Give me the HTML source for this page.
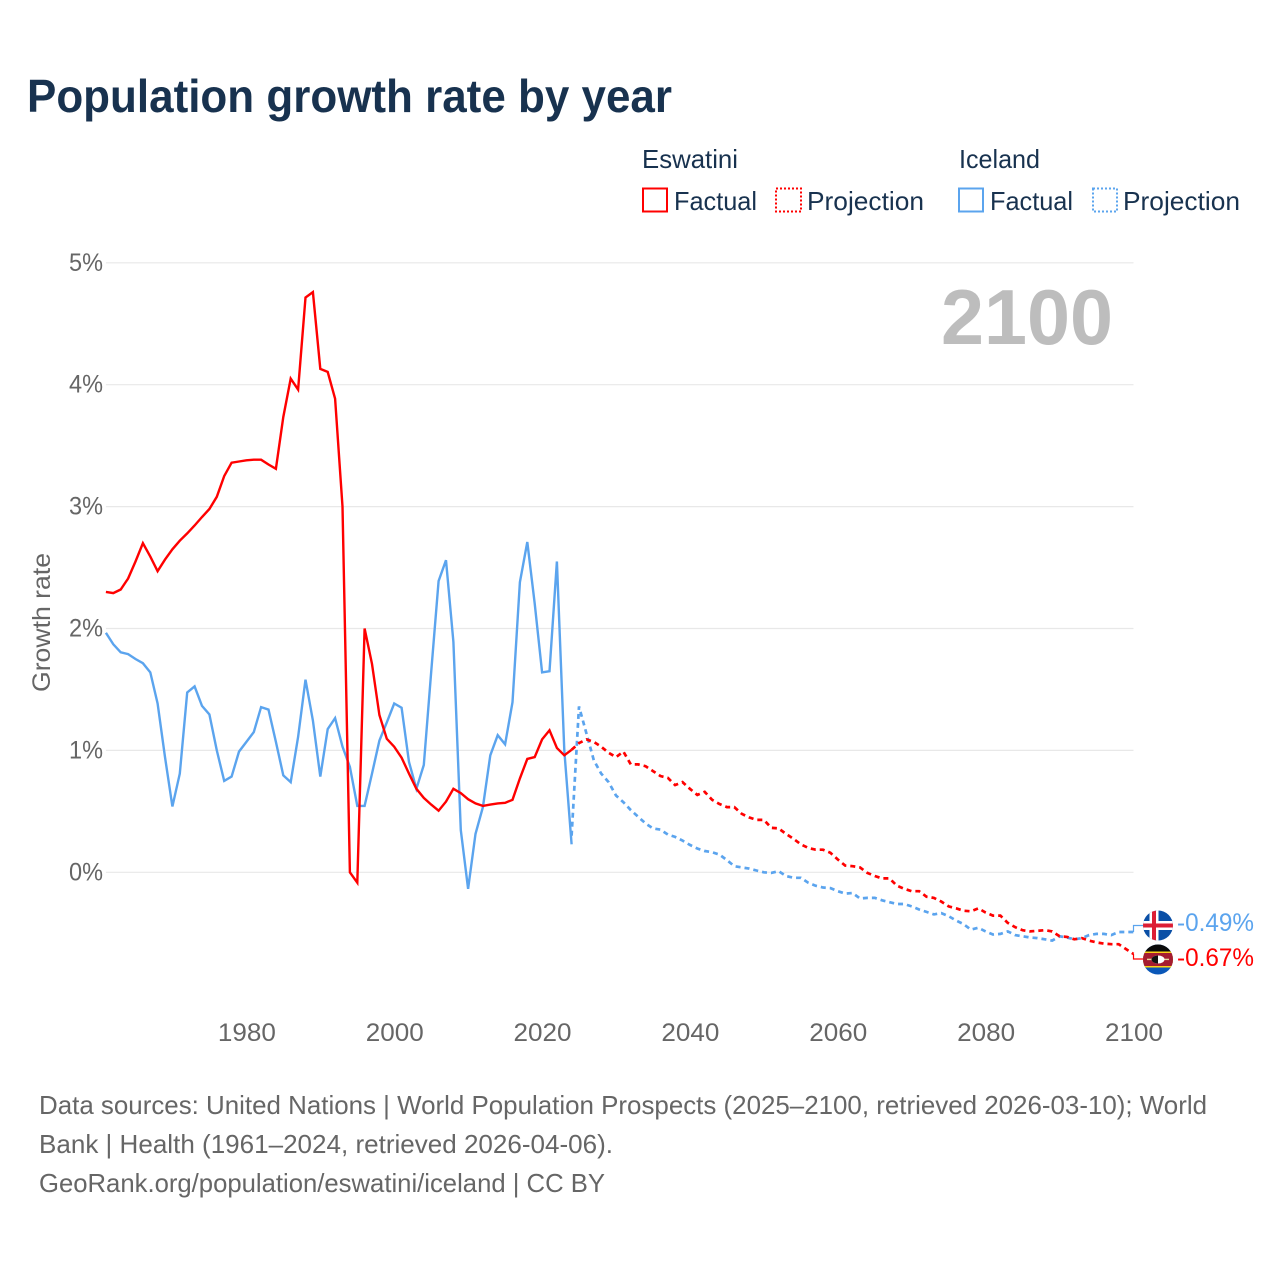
<!DOCTYPE html>
<html lang="en">
<head>
<meta charset="utf-8">
<title>Population growth rate by year</title>
<style>
html,body{margin:0;padding:0;background:#fff;}
svg{display:block;}
text{font-family:"Liberation Sans",sans-serif;}
</style>
</head>
<body>
<svg id="chart" xmlns="http://www.w3.org/2000/svg" width="1280" height="1280" viewBox="0 0 1280 1280">
  <defs>
    <clipPath id="flag-clip-top"><circle cx="1158" cy="925.5" r="15"/></clipPath>
    <clipPath id="flag-clip-bottom"><circle cx="1158" cy="959.5" r="15"/></clipPath>
  </defs>
  <rect width="1280" height="1280" fill="#fff"/>
  <text x="27" y="112" font-size="46" font-weight="700" fill="#18324f" textLength="645" lengthAdjust="spacingAndGlyphs">Population growth rate by year</text>

  <g font-size="26" fill="#18324f">
    <text x="642" y="168" textLength="96" lengthAdjust="spacingAndGlyphs">Eswatini</text>
    <text x="959" y="168" textLength="81" lengthAdjust="spacingAndGlyphs">Iceland</text>
    <rect x="643" y="188.5" width="24" height="23" fill="none" stroke="#ff0000" stroke-width="2"/>
    <text x="674" y="210" textLength="83" lengthAdjust="spacingAndGlyphs">Factual</text>
    <rect x="776" y="188.5" width="25" height="23" fill="none" stroke="#ff0000" stroke-width="2" stroke-dasharray="2 2"/>
    <text x="807" y="210" textLength="117" lengthAdjust="spacingAndGlyphs">Projection</text>
    <rect x="959" y="188.5" width="24" height="23" fill="none" stroke="#5ba4ee" stroke-width="2"/>
    <text x="990" y="210" textLength="83" lengthAdjust="spacingAndGlyphs">Factual</text>
    <rect x="1093" y="188.5" width="24" height="23" fill="none" stroke="#5ba4ee" stroke-width="2" stroke-dasharray="2 2"/>
    <text x="1123" y="210" textLength="117" lengthAdjust="spacingAndGlyphs">Projection</text>
  </g>

  <g id="grid"></g>
  <g id="yticks" font-size="25" fill="#666"></g>
  <g id="xticks" font-size="25" fill="#666"></g>
  <text transform="translate(50,622.5) rotate(-90)" text-anchor="middle" font-size="25" fill="#666" textLength="139" lengthAdjust="spacingAndGlyphs">Growth rate</text>
  <text x="941" y="344" font-size="78" font-weight="700" fill="#bdbdbd" textLength="172" lengthAdjust="spacingAndGlyphs">2100</text>

  <g id="series"></g>

  <g clip-path="url(#flag-clip-top)">
    <rect x="1143" y="910" width="30" height="31" fill="#0a4fa6"/>
    <rect x="1143" y="921" width="30" height="9" fill="#fff"/>
    <rect x="1149.5" y="910" width="9" height="31" fill="#fff"/>
    <rect x="1143" y="923.5" width="30" height="4" fill="#dc1e35"/>
    <rect x="1152" y="910" width="4" height="31" fill="#dc1e35"/>
  </g>
  <g clip-path="url(#flag-clip-bottom)">
    <rect x="1143" y="944" width="30" height="31" fill="#0a57b8"/>
    <rect x="1143" y="944" width="30" height="8" fill="#0b0b0b"/>
    <rect x="1143" y="951.5" width="30" height="16" fill="#fcd116"/>
    <rect x="1143" y="953" width="30" height="13" fill="#a51c30"/>
    <rect x="1147" y="958.7" width="22" height="1.4" fill="#e8d9a0"/>
    <ellipse cx="1158" cy="959.5" rx="6.5" ry="4" fill="#fff"/>
    <path d="M1158 955.5a6.500 4 0 0 0 0 8z" fill="#111"/>
  </g>
  <text id="label-iceland" x="1177" y="931" font-size="25" fill="#5ba4ee" textLength="77" lengthAdjust="spacingAndGlyphs"></text>
  <text id="label-eswatini" x="1177" y="966" font-size="25" fill="#ff0000" textLength="77" lengthAdjust="spacingAndGlyphs"></text>

  <g font-size="26" fill="#666">
    <text x="39" y="1114" textLength="1168" lengthAdjust="spacingAndGlyphs">Data sources: United Nations | World Population Prospects (2025–2100, retrieved 2026-03-10); World</text>
    <text x="39" y="1153" textLength="574" lengthAdjust="spacingAndGlyphs">Bank | Health (1961–2024, retrieved 2026-04-06).</text>
    <text x="39" y="1192" textLength="566" lengthAdjust="spacingAndGlyphs">GeoRank.org/population/eswatini/iceland | CC BY</text>
  </g>
</svg>
<script>
const yTickValues = [0, 1, 2, 3, 4, 5];
const xTickYears = [1980, 2000, 2020, 2040, 2060, 2080, 2100];
const factualStartYear = 1961;
const projectionStartYear = 2024;

const eswatiniFactual = [
  2.30,2.29,2.32,2.41,2.55,2.70,2.59,2.47,2.565,2.65,
  2.72,2.78,2.845,2.915,2.98,3.08,3.25,3.36,3.37,3.38,
  3.385,3.385,3.345,3.31,3.735,4.05,3.96,4.715,4.76,4.13,
  4.105,3.885,3.0,0.0,-0.085,2.0,1.71,1.29,1.095,1.03,
  0.94,0.81,0.685,0.61,0.555,0.505,0.58,0.685,0.65,0.60,
  0.565,0.545,0.555,0.565,0.57,0.595,0.77,0.93,0.945,1.09,
  1.165,1.02,0.96,1.005
];
const icelandFactual = [
  1.965,1.87,1.805,1.79,1.75,1.715,1.64,1.385,0.945,0.54,
  0.81,1.475,1.525,1.365,1.295,1.0,0.75,0.785,0.99,1.07,
  1.15,1.355,1.335,1.07,0.795,0.74,1.11,1.58,1.245,0.785,
  1.175,1.265,1.03,0.865,0.545,0.545,0.81,1.08,1.23,1.385,
  1.35,0.905,0.685,0.88,1.645,2.39,2.56,1.89,0.345,-0.135,
  0.315,0.535,0.96,1.125,1.05,1.395,2.38,2.71,2.205,1.64,
  1.65,2.55,1.0,0.23
];
const eswatiniProjection = [
  1.005,1.06,1.09,1.07,1.03,0.98,0.945,
  0.99,0.885,0.885,0.87,0.83,0.79,0.775,0.715,0.74,0.685,
  0.635,0.66,0.595,0.56,0.535,0.535,0.48,0.45,0.43,0.43,
  0.365,0.36,0.315,0.275,0.23,0.20,0.185,0.185,0.16,0.105,
  0.055,0.05,0.04,-0.005,-0.03,-0.05,-0.05,-0.11,-0.135,-0.155,
  -0.155,-0.20,-0.21,-0.24,-0.28,-0.295,-0.315,-0.32,-0.295,-0.33,
  -0.355,-0.355,-0.415,-0.45,-0.475,-0.485,-0.48,-0.475,-0.485,-0.525,
  -0.53,-0.55,-0.54,-0.56,-0.575,-0.585,-0.59,-0.59,-0.63,-0.67
];
const icelandProjection = [
  0.30,1.36,1.14,0.92,0.81,0.74,0.63,
  0.575,0.51,0.455,0.40,0.36,0.35,0.31,0.29,0.26,0.225,
  0.195,0.175,0.165,0.145,0.10,0.05,0.04,0.03,0.015,0.0,
  -0.005,0.01,-0.03,-0.045,-0.045,-0.085,-0.11,-0.125,-0.13,-0.155,
  -0.175,-0.17,-0.215,-0.21,-0.21,-0.23,-0.245,-0.26,-0.26,-0.28,
  -0.305,-0.325,-0.345,-0.335,-0.36,-0.395,-0.425,-0.47,-0.455,-0.485,
  -0.51,-0.505,-0.485,-0.515,-0.525,-0.535,-0.54,-0.55,-0.56,-0.525,
  -0.535,-0.55,-0.54,-0.515,-0.505,-0.505,-0.515,-0.49,-0.49,-0.49
];
const eswatiniEndLabel = "-0.67%";
const icelandEndLabel = "-0.49%";

const SVG_NS = "http://www.w3.org/2000/svg";
const RED = "#ff0000";
const BLUE = "#5ba4ee";
const X_LEFT = 105.9;
const X_RIGHT = 1133.5;
const Y_ZERO = 872.3;
const Y_PER_PERCENT = 121.9;

function xScale(year) {
  return X_LEFT + (year - 1961) * (X_RIGHT - X_LEFT) / (2100 - 1961);
}
function yScale(value) {
  return Y_ZERO - value * Y_PER_PERCENT;
}
function pointsFor(values, startYear) {
  return values.map(function (v, i) {
    return xScale(startYear + i).toFixed(1) + "," + yScale(v).toFixed(1);
  }).join(" ");
}

const gridGroup = document.getElementById("grid");
const yTickGroup = document.getElementById("yticks");
yTickValues.forEach(function (v) {
  const line = document.createElementNS(SVG_NS, "line");
  
  
  line.setAttribute("x1", X_LEFT);
  line.setAttribute("x2", X_RIGHT);
  line.setAttribute("y1", yScale(v));
  line.setAttribute("y2", yScale(v));
  line.setAttribute("stroke", "#e8e8e8");
  line.setAttribute("stroke-width", "1.2");
  gridGroup.appendChild(line);

  const label = document.createElementNS(SVG_NS, "text");
  
  
  label.setAttribute("x", 69);
  label.setAttribute("y", yScale(v) + 8);
  label.setAttribute("textLength", 34);
  label.setAttribute("lengthAdjust", "spacingAndGlyphs");
  label.textContent = v + "%";
  yTickGroup.appendChild(label);
});

const xTickGroup = document.getElementById("xticks");
xTickYears.forEach(function (year) {
  const label = document.createElementNS(SVG_NS, "text");
  
  
  label.setAttribute("x", xScale(year) - 28.5);
  label.setAttribute("y", 1041);
  label.setAttribute("textLength", 58);
  label.setAttribute("lengthAdjust", "spacingAndGlyphs");
  label.textContent = year;
  xTickGroup.appendChild(label);
});

const seriesGroup = document.getElementById("series");
function addLine(values, startYear, color, dashed, name) {
  const line = document.createElementNS(SVG_NS, "polyline");
  
  
  line.setAttribute("points", pointsFor(values, startYear));
  line.setAttribute("fill", "none");
  line.setAttribute("stroke", color);
  line.setAttribute("stroke-width", dashed ? "2.7" : "2.4");
  line.setAttribute("stroke-linejoin", "miter");
  if (dashed) line.setAttribute("stroke-dasharray", "5 4");
  seriesGroup.appendChild(line);
}
function addConnector(lastValue, flagY, color, name) {
  const path = document.createElementNS(SVG_NS, "path");
  
  
  path.setAttribute("d", "M" + X_RIGHT + " " + yScale(lastValue).toFixed(1) + "V" + flagY + "H1143");
  path.setAttribute("fill", "none");
  path.setAttribute("stroke", color);
  path.setAttribute("stroke-width", "1.2");
  seriesGroup.appendChild(path);
}

addLine(icelandProjection, projectionStartYear, BLUE, true, "iceland-projection-line");
addLine(icelandFactual, factualStartYear, BLUE, false, "iceland-factual-line");
addLine(eswatiniProjection, projectionStartYear, RED, true, "eswatini-projection-line");
addLine(eswatiniFactual, factualStartYear, RED, false, "eswatini-factual-line");
addConnector(icelandProjection[icelandProjection.length - 1], 925.5, BLUE, "iceland-label-connector");
addConnector(eswatiniProjection[eswatiniProjection.length - 1], 959, RED, "eswatini-label-connector");

document.getElementById("label-iceland").textContent = icelandEndLabel;
document.getElementById("label-eswatini").textContent = eswatiniEndLabel;
</script>
</body>
</html>
